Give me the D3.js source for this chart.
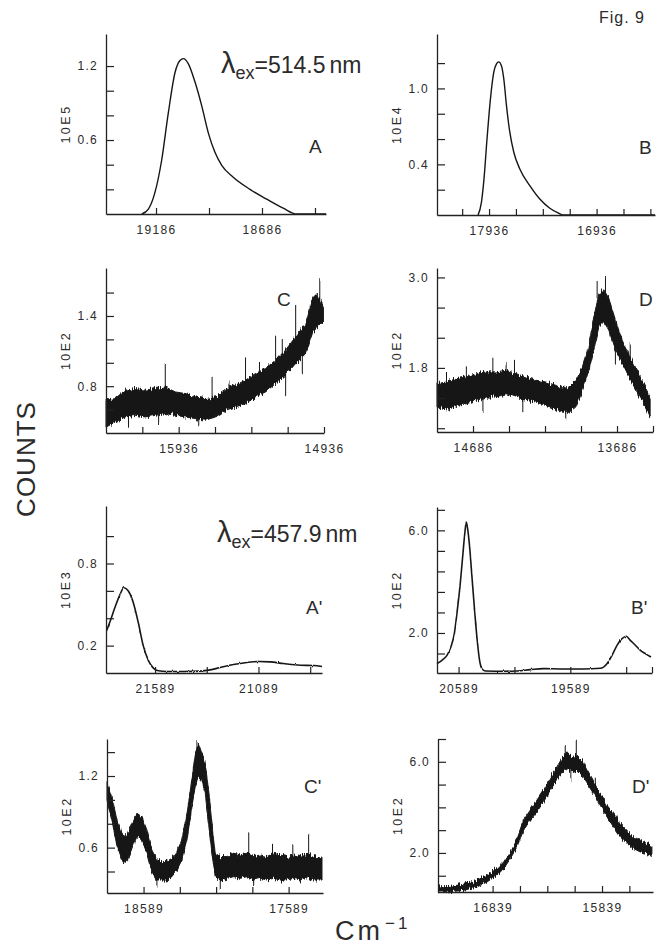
<!DOCTYPE html>
<html>
<head>
<meta charset="utf-8">
<script src="https://cdn.jsdelivr.net/npm/d3@7"></script>
<style>
  body { margin: 0; background: #fff; }
  text { font-family: "Liberation Sans", Arial, sans-serif; fill: #2b2b2b; }
</style>
</head>
<body>
<svg id="fig"></svg>
<script>
// ---------- data (wavenumber in cm-1, counts in panel units) ----------

// A: lambda_ex = 514.5 nm, smooth band
const aWave   = [19253, 19222, 19191, 19159, 19128, 19096, 19073, 19057, 19034, 19002, 18970, 18939, 18908, 18876, 18823, 18743, 18664, 18586, 18522, 18384];
const aCounts = [0.0, 0.04, 0.175, 0.44, 0.82, 1.15, 1.245, 1.26, 1.22, 1.07, 0.875, 0.656, 0.50, 0.395, 0.30, 0.20, 0.12, 0.047, 0.0, 0.0];

// B
const bWave   = [18038, 18007, 17983, 17955, 17923, 17892, 17867, 17846, 17821, 17799, 17774, 17743, 17706, 17650, 17557, 17464, 17371, 17294, 17250, 16393];
const bCounts = [0.0, 0.10, 0.285, 0.60, 0.917, 1.128, 1.194, 1.21, 1.18, 1.075, 0.864, 0.654, 0.496, 0.364, 0.232, 0.126, 0.053, 0.016, 0.0, 0.0];

// C: noisy trace, kept as lower / upper edge of the band plus spikes
const cWave = [16436, 16373, 16304, 16235, 16166, 16097, 16028, 15959, 15890, 15821, 15752, 15683, 15614, 15545, 15476, 15407, 15338, 15269, 15200, 15131, 15062, 15016, 14982, 14940];
const cLow  = [0.45, 0.494, 0.537, 0.551, 0.537, 0.551, 0.566, 0.551, 0.537, 0.523, 0.509, 0.537, 0.594, 0.623, 0.651, 0.709, 0.751, 0.823, 0.894, 0.994, 1.08, 1.251, 1.309, 1.351];
const cHigh = [0.68, 0.694, 0.766, 0.78, 0.766, 0.78, 0.794, 0.751, 0.737, 0.709, 0.694, 0.709, 0.766, 0.809, 0.851, 0.909, 0.951, 1.023, 1.109, 1.223, 1.337, 1.551, 1.594, 1.48];
const cSpikes = [[16028, 0.75, 0.989], [15476, 0.8, 1.037], [15269, 1.0, 1.223], [15131, 1.2, 1.494], [14965, 1.5, 1.714],
                 [15706, 0.7, 0.88], [15223, 1.05, 1.194], [15085, 1.1, 0.894], [15200, 0.92, 0.723], [15798, 0.54, 0.466],
                 [16074, 0.56, 0.486], [16281, 0.56, 0.437], [15380, 0.85, 1.0], [15590, 0.7, 0.84]];

// D
const dWave = [14936, 14870, 14801, 14732, 14663, 14594, 14525, 14456, 14387, 14318, 14249, 14180, 14111, 14065, 14019, 13973, 13927, 13881, 13847, 13812, 13778, 13743, 13697, 13651, 13605, 13559, 13513, 13479, 13456];
const dLow  = [1.28, 1.258, 1.302, 1.324, 1.369, 1.413, 1.413, 1.458, 1.413, 1.369, 1.347, 1.302, 1.258, 1.213, 1.213, 1.28, 1.502, 1.769, 2.036, 2.347, 2.413, 2.302, 2.036, 1.858, 1.68, 1.524, 1.369, 1.236, 1.147];
const dHigh = [1.591, 1.613, 1.658, 1.68, 1.724, 1.747, 1.747, 1.769, 1.724, 1.68, 1.636, 1.613, 1.569, 1.524, 1.547, 1.636, 1.813, 2.08, 2.48, 2.769, 2.836, 2.724, 2.436, 2.169, 1.991, 1.813, 1.636, 1.502, 1.413];
const dSpikes = [[14548, 1.7, 1.947], [14398, 1.7, 1.88], [14456, 1.7, 1.85], [13824, 2.7, 2.947], [13766, 2.8, 2.991],
                 [13594, 1.95, 2.124], [14617, 1.4, 1.2], [14340, 1.4, 1.2], [14042, 1.25, 1.13], [13697, 2.1, 1.858],
                 [14732, 1.65, 1.82], [14870, 1.6, 1.75]];

// A': lambda_ex = 457.9 nm
const apWave   = [21823, 21802, 21783, 21758, 21739, 21718, 21694, 21670, 21646, 21621, 21597, 21573, 21532, 21452, 21371, 21323, 21274, 21210, 21145, 21089, 21032, 20968, 20887, 20823, 20782];
const apCounts = [0.309, 0.394, 0.478, 0.575, 0.623, 0.599, 0.514, 0.369, 0.2, 0.091, 0.036, 0.016, 0.011, 0.011, 0.014, 0.023, 0.04, 0.062, 0.077, 0.084, 0.081, 0.069, 0.057, 0.055, 0.048];

// B'
const bpWave   = [20782, 20738, 20693, 20658, 20627, 20604, 20574, 20550, 20532, 20520, 20508, 20490, 20469, 20448, 20425, 20401, 20380, 20350, 20186, 20066,
                  19947, 19828, 19649, 19470, 19320, 19261, 19216, 19171, 19126, 19088, 19052, 19007, 18962, 18918, 18867];
const bpCounts = [0.805, 0.935, 1.13, 1.455, 1.974, 2.753, 3.92, 5.09, 5.935, 6.325, 6.065, 5.35, 4.18, 3.01, 1.844, 0.935, 0.61, 0.52, 0.506, 0.52,
                  0.571, 0.61, 0.597, 0.597, 0.623, 0.805, 1.13, 1.52, 1.779, 1.87, 1.714, 1.52, 1.325, 1.195, 1.065];

// C'
const cpWave = [18841, 18807, 18773, 18738, 18704, 18669, 18635, 18601, 18566, 18532, 18497, 18463, 18428, 18394, 18359, 18325, 18290, 18256, 18233, 18210,
                18187, 18164, 18141, 18118, 18095, 18060, 18014, 17968, 17922, 17876, 17830, 17784, 17738, 17692, 17646, 17600, 17554, 17508, 17462, 17416, 17359];
const cpLow  = [0.999, 0.832, 0.608, 0.497, 0.483, 0.594, 0.692, 0.664, 0.553, 0.399, 0.329, 0.329, 0.329, 0.357, 0.413, 0.497, 0.664, 0.943, 1.11, 1.194,
                1.166, 1.055, 0.804, 0.553, 0.357, 0.329, 0.343, 0.357, 0.343, 0.357, 0.329, 0.343, 0.329, 0.343, 0.329, 0.329, 0.343, 0.329, 0.357, 0.329, 0.329];
const cpHigh = [1.152, 1.027, 0.832, 0.72, 0.692, 0.804, 0.888, 0.859, 0.748, 0.58, 0.497, 0.483, 0.483, 0.511, 0.567, 0.664, 0.888, 1.166, 1.389, 1.473,
                1.389, 1.306, 1.083, 0.804, 0.553, 0.525, 0.525, 0.553, 0.539, 0.553, 0.525, 0.539, 0.525, 0.553, 0.539, 0.525, 0.539, 0.525, 0.553, 0.525, 0.511];
const cpSpikes = [[18221, 1.4, 1.501], [17864, 0.53, 0.72], [17451, 0.53, 0.72], [18060, 0.35, 0.246], [17830, 0.34, 0.288],
                  [18727, 0.5, 0.455], [18497, 0.35, 0.274], [17700, 0.53, 0.64], [17560, 0.53, 0.62]];

// D'
const dpWave = [17333, 17226, 17104, 16982, 16891, 16799, 16738, 16677, 16617, 16556, 16495, 16434, 16373, 16312, 16251, 16205, 16160, 16114, 16068, 16022,
                15977, 15916, 15855, 15794, 15733, 15672, 15611, 15550, 15489, 15428, 15383];
const dpLow  = [0.286, 0.3, 0.359, 0.505, 0.725, 1.018, 1.311, 1.751, 2.264, 2.996, 3.436, 3.802, 4.242, 4.755, 5.194, 5.56, 5.707, 5.56, 5.634, 5.414,
                5.048, 4.608, 4.095, 3.582, 3.143, 2.703, 2.41, 2.19, 2.044, 1.971, 1.897];
const dpHigh = [0.505, 0.535, 0.623, 0.799, 1.018, 1.311, 1.604, 2.044, 2.63, 3.436, 3.875, 4.315, 4.755, 5.267, 5.78, 6.147, 6.44, 6.22, 6.293, 6.073,
                5.634, 5.121, 4.608, 4.095, 3.729, 3.289, 2.996, 2.703, 2.557, 2.41, 2.337];
const dpSpikes = [[16175, 6.2, 6.733], [16074, 6.2, 6.923], [16124, 5.8, 5.194], [16300, 5.0, 5.5], [15900, 4.9, 5.3], [15700, 3.0, 3.6], [16560, 3.2, 3.5]];

// axis ranges, ticks and tick labels
const aXRange = [19422, 18384],  aYRange = [0, 1.46];
const aXTicks = [19186, 18936, 18686, 18436], aXLabels = [19186, 18686];
const aYTicks = [0.2, 0.4, 0.6, 0.8, 1.0, 1.2], aYLabels = [0.6, 1.2];

const bXRange = [18420, 16393],  bYRange = [0, 1.43];
const bXTicks = [18186, 17936, 17686, 17436, 17186, 16936, 16686, 16436], bXLabels = [17936, 16936];
const bYTicks = [0.2, 0.4, 0.6, 0.8, 1.0, 1.2], bYLabels = [0.4, 1.0];

const cXRange = [16436, 14936],  cYRange = [0.4, 1.81];
const cXTicks = [16186, 15936, 15686, 15436, 15186, 14936], cXLabels = [15936, 14936];
const cYTicks = [0.6, 0.8, 1.0, 1.2, 1.4, 1.6], cYLabels = [0.8, 1.4];

const dXRange = [14936, 13436],  dYRange = [0.95, 3.125];
const dXTicks = [14686, 14436, 14186, 13936, 13686, 13436], dXLabels = [14686, 13686];
const dYTicks = [1.0, 1.4, 1.8, 2.2, 2.6, 3.0], dYLabels = [1.8, 3.0];

const apXRange = [21826, 20782], apYRange = [0, 1.22];
const apXTicks = [21589, 21339, 21089, 20839], apXLabels = [21589, 21089];
const apYTicks = [0.2, 0.4, 0.6, 0.8, 1.0], apYLabels = [0.2, 0.8];

const bpXRange = [20782, 18858], bpYRange = [0.44, 6.91];
const bpXTicks = [20589, 20089, 19589, 19089, 18858], bpXLabels = [20589, 19589];
const bpYTicks = [1.2, 2.0, 2.8, 3.6, 4.4, 5.2, 6.0, 6.8], bpYLabels = [2.0, 6.0];

const cpXRange = [18841, 17352], cpYRange = [0.22, 1.51];
const cpXTicks = [18589, 18339, 18089, 17839, 17589], cpXLabels = [18589, 17589];
const cpYTicks = [0.4, 0.6, 0.8, 1.0, 1.2, 1.4], cpYLabels = [0.6, 1.2];

const dpXRange = [17338, 15373], dpYRange = [0.286, 7.0];
const dpXTicks = [16839, 16589, 16339, 16089, 15839, 15589], dpXLabels = [16839, 15839];
const dpYTicks = [1, 2, 3, 4, 5, 6, 7], dpYLabels = [2, 6];

const panelNames = ['A', 'B', 'C', 'D', "A'", "B'", "C'", "D'"];
const yUnits     = ['10E5', '10E4', '10E2', '10E2', '10E3', '10E2', '10E2', '10E2'];

// ---------- layout ----------
const W = 657, H = 947;

const panels = [
    { box: { x: 106, y: 34,  w: 220, h: 180 }, xr: aXRange,  yr: aYRange,  xt: aXTicks,  xl: aXLabels,  yt: aYTicks,  yl: aYLabels,
      line: [aWave, aCounts], letterAt: [309, 153] },
    { box: { x: 437, y: 34,  w: 218, h: 181 }, xr: bXRange,  yr: bYRange,  xt: bXTicks,  xl: bXLabels,  yt: bYTicks,  yl: bYLabels,
      line: [bWave, bCounts], letterAt: [639, 154] },
    { box: { x: 106, y: 268, w: 218, h: 165 }, xr: cXRange,  yr: cYRange,  xt: cXTicks,  xl: cXLabels,  yt: cYTicks,  yl: cYLabels,
      band: [cWave, cLow, cHigh], spikes: cSpikes, letterAt: [277, 306] },
    { box: { x: 437, y: 268, w: 216, h: 164 }, xr: dXRange,  yr: dYRange,  xt: dXTicks,  xl: dXLabels,  yt: dYTicks,  yl: dYLabels,
      band: [dWave, dLow, dHigh], spikes: dSpikes, letterAt: [639, 306] },
    { box: { x: 106, y: 506, w: 216, h: 167 }, xr: apXRange, yr: apYRange, xt: apXTicks, xl: apXLabels, yt: apYTicks, yl: apYLabels,
      line: [apWave, apCounts], noisy: true, letterAt: [306, 614] },
    { box: { x: 437, y: 507, w: 215, h: 166 }, xr: bpXRange, yr: bpYRange, xt: bpXTicks, xl: bpXLabels, yt: bpYTicks, yl: bpYLabels,
      line: [bpWave, bpCounts], noisy: true, letterAt: [631, 614] },
    { box: { x: 107, y: 739, w: 216, h: 154 }, xr: cpXRange, yr: cpYRange, xt: cpXTicks, xl: cpXLabels, yt: cpYTicks, yl: cpYLabels,
      band: [cpWave, cpLow, cpHigh], spikes: cpSpikes, letterAt: [304, 793] },
    { box: { x: 438, y: 739, w: 215, h: 153 }, xr: dpXRange, yr: dpYRange, xt: dpXTicks, xl: dpXLabels, yt: dpYTicks, yl: dpYLabels,
      band: [dpWave, dpLow, dpHigh], spikes: dpSpikes, letterAt: [632, 793] }
];

const ink = '#161616';
const svg = d3.select('#fig').attr('width', W).attr('height', H);
svg.append('rect').attr('width', W).attr('height', H).attr('fill', '#fff');

// roughen the edges of the noisy traces (vertical jitter only)
const defs = svg.append('defs');
function addRoughFilter(id, amount) {
    const f = defs.append('filter').attr('id', id)
        .attr('x', '-3%').attr('y', '-25%').attr('width', '106%').attr('height', '150%');
    f.append('feTurbulence').attr('type', 'fractalNoise').attr('baseFrequency', '0.9 0.08')
        .attr('numOctaves', 2).attr('seed', 3).attr('result', 'noise');
    f.append('feColorMatrix').attr('in', 'noise').attr('type', 'matrix')
        .attr('values', '0 0 0 0 0.5  0 1 0 0 0  0 0 1 0 0  0 0 0 0 1').attr('result', 'shift');
    f.append('feDisplacementMap').attr('in', 'SourceGraphic').attr('in2', 'shift')
        .attr('scale', amount).attr('xChannelSelector', 'R').attr('yChannelSelector', 'G');
}
addRoughFilter('rough', 9);
addRoughFilter('rough-light', 2.5);

panels.forEach((p, i) => {
    const g = svg.append('g').attr('transform', `translate(${p.box.x},${p.box.y})`);
    const x = d3.scaleLinear().domain(p.xr).range([0, p.box.w]);
    const y = d3.scaleLinear().domain(p.yr).range([p.box.h, 0]);

    // spectrum
    if (p.band) {
        const [wave, lo, hi] = p.band;
        const rows = wave.map((w, k) => ({ w, lo: lo[k], hi: hi[k] }));
        const gb = g.append('g').style('filter', 'url(#rough)');
        gb.append('path')
            .datum(rows)
            .attr('fill', ink)
            .attr('stroke', ink)
            .attr('stroke-width', 1)
            .attr('d', d3.area().x(d => x(d.w)).y0(d => y(d.lo)).y1(d => y(d.hi)));
        gb.selectAll('.spike')
            .data(p.spikes)
            .join('line')
            .attr('class', 'spike')
            .attr('x1', d => x(d[0])).attr('x2', d => x(d[0]))
            .attr('y1', d => y(d[1])).attr('y2', d => y(d[2]))
            .attr('stroke', ink)
            .attr('stroke-width', 1);
    }
    if (p.line) {
        const [wave, counts] = p.line;
        const rows = wave.map((w, k) => ({ w, v: counts[k] }));
        const path = g.append('path')
            .datum(rows)
            .attr('fill', 'none')
            .attr('stroke', ink)
            .attr('stroke-width', p.noisy ? 1.6 : 1.4)
            .attr('d', d3.line().x(d => x(d.w)).y(d => y(d.v)).curve(d3.curveMonotoneX));
        if (p.noisy) path.style('filter', 'url(#rough-light)');
    }

    // axes: ticks point into the plot
    const xAxis = d3.axisBottom(x)
        .tickValues(p.xt)
        .tickSize(-6)
        .tickSizeOuter(0)
        .tickPadding(11)
        .tickFormat(d => p.xl.includes(d) ? d : '');
    const gx = g.append('g').attr('transform', `translate(0,${p.box.h})`).call(xAxis);

    const yAxis = d3.axisLeft(y)
        .tickValues(p.yt)
        .tickSize(-8)
        .tickSizeOuter(0)
        .tickPadding(8)
        .tickFormat(d => p.yl.includes(d) ? d3.format('.1f')(d) : '');
    const gy = g.append('g').call(yAxis);

    [gx, gy].forEach(a => {
        a.attr('font-family', null).attr('font-size', null);
        a.select('.domain').attr('stroke', '#222').attr('stroke-width', 1.3);
        a.selectAll('.tick line').attr('stroke', '#222').attr('stroke-width', 1.2);
        a.selectAll('.tick text')
            .attr('fill', '#2b2b2b')
            .style('font-size', '12px')
            .style('letter-spacing', '1.3px');
    });

    // unit label
    g.append('text')
        .attr('transform', `translate(-36,${p.box.h / 2}) rotate(-90)`)
        .attr('text-anchor', 'middle')
        .style('font-size', '12.5px')
        .style('letter-spacing', '2.5px')
        .text(yUnits[i]);

    // panel letter
    svg.append('text')
        .attr('x', p.letterAt[0])
        .attr('y', p.letterAt[1])
        .style('font-size', '19px')
        .style('font-weight', 300)
        .text(panelNames[i]);
});

// excitation wavelengths
function lambdaLabel(xPos, yPos, value) {
    const t = svg.append('text').attr('x', xPos).attr('y', yPos).style('font-size', '23px');
    t.append('tspan').style('font-size', '29px').text('λ');
    t.append('tspan').attr('dy', 6).style('font-size', '18px').text('ex');
    t.append('tspan').attr('dy', -6).text('=' + value);
    t.append('tspan').attr('dx', 4).text('nm');
}
lambdaLabel(221, 73, '514.5');
lambdaLabel(217, 542, '457.9');

svg.append('text')
    .attr('x', 599).attr('y', 23)
    .style('font-size', '16px')
    .style('letter-spacing', '1px')
    .text('Fig. 9');

svg.append('text')
    .attr('transform', 'translate(35,459) rotate(-90)')
    .attr('text-anchor', 'middle')
    .style('font-size', '26px')
    .style('letter-spacing', '1px')
    .text('COUNTS');

const cm = svg.append('text').attr('x', 335).attr('y', 940).style('font-size', '27px').style('letter-spacing', '3px');
cm.append('tspan').text('Cm');
cm.append('tspan').attr('dy', -11).attr('dx', 2).style('font-size', '17px').text('−1');
</script>
</body>
</html>
